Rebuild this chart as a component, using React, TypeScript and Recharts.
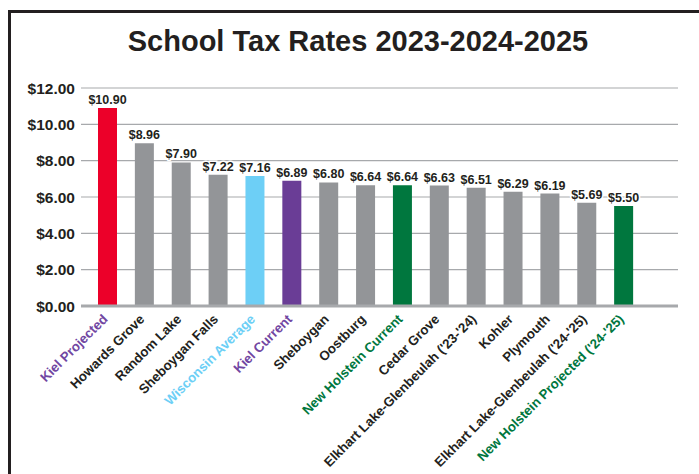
import React from "react";
import { BarChart, Bar, XAxis, YAxis, CartesianGrid, Cell, LabelList } from "recharts";

const DISTRICTS = [
  "Kiel Projected",
  "Howards Grove",
  "Random Lake",
  "Sheboygan Falls",
  "Wisconsin Average",
  "Kiel Current",
  "Sheboygan",
  "Oostburg",
  "New Holstein Current",
  "Cedar Grove",
  "Elkhart Lake-Glenbeulah ('23-'24)",
  "Kohler",
  "Plymouth",
  "Elkhart Lake-Glenbeulah ('24-'25)",
  "New Holstein Projected ('24-'25)",
];

const RATES = [10.9, 8.96, 7.9, 7.22, 7.16, 6.89, 6.8, 6.64, 6.64, 6.63, 6.51, 6.29, 6.19, 5.69, 5.5];

const RED = "#ec0029";
const GREY = "#939598";
const SKY = "#6dcff6";
const PURPLE = "#6a3d96";
const GREEN = "#00773e";
const TEXT = "#231f20";
const GRID = "#a7a9ac";

const BAR_COLORS = [RED, GREY, GREY, GREY, SKY, PURPLE, GREY, GREY, GREEN, GREY, GREY, GREY, GREY, GREY, GREEN];
const LABEL_COLORS = ["#7146a2", TEXT, TEXT, TEXT, SKY, "#7146a2", TEXT, TEXT, GREEN, TEXT, TEXT, TEXT, TEXT, TEXT, GREEN];

const Y_TICKS = [0, 2, 4, 6, 8, 10, 12];

const data = DISTRICTS.map((name, i) => ({ name, rate: RATES[i] }));

const FONT = "'Liberation Sans', Arial, Helvetica, sans-serif";

function DistrictTick({ x, y, payload, index }: any) {
  return (
    <g transform={`translate(${x + 1},${y + 6}) rotate(-45)`}>
      <text
        x={0}
        y={0}
        textAnchor="end"
        fill={LABEL_COLORS[index] ?? TEXT}
        fontSize={13.3}
        fontWeight="bold"
        fontFamily={FONT}
      >
        {payload.value}
      </text>
    </g>
  );
}

export default function App() {
  return (
    <div
      style={{
        position: "fixed",
        left: 0,
        top: 0,
        width: 699,
        height: 474,
        overflow: "hidden",
        background: "#fff",
        fontFamily: FONT,
      }}
    >
      <div
        style={{
          position: "absolute",
          left: 8,
          top: 10,
          width: 800,
          height: 600,
          border: `3px solid ${TEXT}`,
        }}
      />
      <div
        style={{
          position: "absolute",
          left: 0,
          top: 25,
          width: 716,
          textAlign: "center",
          fontSize: 29,
          fontWeight: "bold",
          color: TEXT,
        }}
      >
        School Tax Rates 2023-2024-2025
      </div>
      <div style={{ position: "absolute", left: 0, top: 0 }}>
        <BarChart
          width={699}
          height={474}
          data={data}
          margin={{ top: 88, right: 21, bottom: 138, left: 0 }}
          barSize={19}
        >
          <CartesianGrid vertical={false} stroke={GRID} strokeWidth={1.2} />
          <XAxis
            dataKey="name"
            interval={0}
            height={30}
            tickLine={false}
            axisLine={{ stroke: GRID, strokeWidth: 3 }}
            padding={{ left: 8, right: 36 }}
            tick={<DistrictTick />}
          />
          <YAxis
            width={81}
            domain={[0, 12]}
            ticks={Y_TICKS}
            axisLine={false}
            tickLine={false}
            tickFormatter={(v: number) => `$${v.toFixed(2)}`}
            tick={{ fill: TEXT, fontSize: 15.5, fontWeight: "bold", fontFamily: FONT, dx: 2 }}
          />
          <Bar dataKey="rate" isAnimationActive={false}>
            {data.map((d, i) => (
              <Cell key={d.name} fill={BAR_COLORS[i]} />
            ))}
            <LabelList
              dataKey="rate"
              position="top"
              offset={4}
              formatter={(v: any) => `$${Number(v).toFixed(2)}`}
              style={{
                fill: TEXT,
                fontSize: 12.5,
                fontWeight: "bold",
                fontFamily: FONT,
                stroke: "#fff",
                strokeWidth: 3,
                paintOrder: "stroke",
              }}
            />
          </Bar>
        </BarChart>
      </div>
    </div>
  );
}
